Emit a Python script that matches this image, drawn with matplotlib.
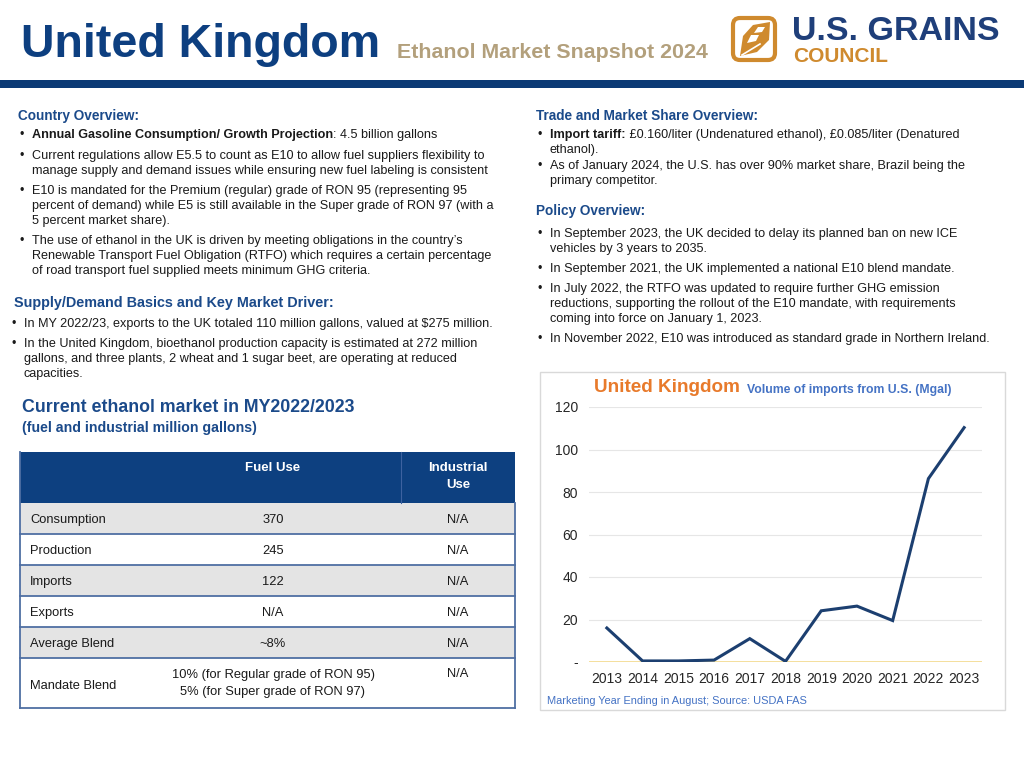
import matplotlib
matplotlib.use("Agg")
import matplotlib.pyplot as plt
from matplotlib.patches import Rectangle, FancyBboxPatch, Polygon

# --- data -------------------------------------------------------------
years = ['2013', '2014', '2015', '2016', '2017', '2018', '2019', '2020', '2021', '2022', '2023']
imports_mgal = [16.0, 0.5, 0.5, 0.9, 11.0, 0.3, 24.1, 26.3, 19.5, 86.3, 110.3]
y_ticks = [0, 20, 40, 60, 80, 100, 120]
y_tick_labels = ['-', '20', '40', '60', '80', '100', '120']

table_rows = ['Consumption', 'Production', 'Imports', 'Exports', 'Average Blend', 'Mandate Blend']
fuel_use = ['370', '245', '122', 'N/A', '~8%',
            '10% (for Regular grade of RON 95)\n5% (for Super grade of RON 97)']
industrial_use = ['N/A', 'N/A', 'N/A', 'N/A', 'N/A', 'N/A']

# --- colours ----------------------------------------------------------
NAVY = '#0d3f80'
HEAD = '#1b4a8a'
TAN = '#b3a07c'
ORANGE = '#cf8a2e'
TXT = '#1a1a1a'
BODY = 9.1

plt.rcParams['font.family'] = ['Liberation Sans', 'DejaVu Sans']

fig = plt.figure(figsize=(10.24, 7.68), dpi=100)
bg = fig.add_axes([0, 0, 1, 1])
bg.set_xlim(0, 1024)
bg.set_ylim(768, 0)
bg.axis('off')
renderer = fig.canvas.get_renderer()


def run(x, y, parts, size=BODY, color=TXT):
    # write a line made of (text, weight) pieces next to each other
    for txt, weight in parts:
        t = bg.text(x, y + 4, txt, fontsize=size, fontweight=weight, color=color, va='baseline')
        x += t.get_window_extent(renderer).width


def bullet(x, y, lines, size=BODY, first=None):
    bg.text(x, y + 4, '\u2022', fontsize=size, color=TXT, va='baseline')
    for i, ln in enumerate(lines):
        yy = y + i * 15.2
        if i == 0 and first is not None:
            run(x + 12, yy, first, size)
        else:
            bg.text(x + 12, yy + 4, ln, fontsize=size, color=TXT, va='baseline')


# --- header -----------------------------------------------------------
bg.text(21, 45, 'United Kingdom', fontsize=33.5, fontweight='bold', color=NAVY, va='center')
bg.text(397, 53, 'Ethanol Market Snapshot 2024', fontsize=15.4, fontweight='bold',
        color=TAN, va='center')

# logo
bg.add_patch(FancyBboxPatch((733, 18), 42, 42, boxstyle='round,pad=0,rounding_size=7',
                            fc='white', ec=ORANGE, lw=3))
bg.add_patch(Polygon([[740, 56], [743, 36], [753, 25], [770, 22], [769, 40], [757, 52]],
                     closed=True, fc=ORANGE, ec='none'))
bg.add_patch(Polygon([[747, 43], [751, 35], [759, 35], [756, 41]], closed=True, fc='white', ec='none'))
bg.add_patch(Polygon([[754, 33], [758, 27], [765, 27], [762, 32]], closed=True, fc='white', ec='none'))
bg.plot([742, 760], [55, 44], color='white', lw=1.2)
bg.text(792, 32, 'U.S. GRAINS', fontsize=24.5, fontweight='bold', color='#1f3f7a', va='center')
bg.text(793, 57, 'COUNCIL', fontsize=15, fontweight='bold', color=ORANGE, va='center')

bg.add_patch(Rectangle((0, 80), 1024, 8, fc='#0b3a75', ec='none'))

# --- left column ------------------------------------------------------
bg.text(18, 116, 'Country Overview:', fontsize=9.8, fontweight='bold', color=HEAD, va='center')
bullet(20, 134, ['x'], first=[('Annual Gasoline Consumption/ Growth Projection', 'bold'),
                              (': 4.5 billion gallons', 'normal')])
bullet(20, 155, ['Current regulations allow E5.5 to count as E10 to allow fuel suppliers flexibility to',
                 'manage supply and demand issues while ensuring new fuel labeling is consistent'])
bullet(20, 190, ['E10 is mandated for the Premium (regular) grade of RON 95 (representing 95',
                 'percent of demand) while E5 is still available in the Super grade of RON 97 (with a',
                 '5 percent market share).'])
bullet(20, 240, ['The use of ethanol in the UK is driven by meeting obligations in the country\u2019s',
                 'Renewable Transport Fuel Obligation (RTFO) which requires a certain percentage',
                 'of road transport fuel supplied meets minimum GHG criteria.'])

bg.text(14, 303, 'Supply/Demand Basics and Key Market Driver:', fontsize=10.4, fontweight='bold',
        color=HEAD, va='center')
bullet(12, 323, ['In MY 2022/23, exports to the UK totaled 110 million gallons, valued at $275 million.'])
bullet(12, 343, ['In the United Kingdom, bioethanol production capacity is estimated at 272 million',
                 'gallons, and three plants, 2 wheat and 1 sugar beet, are operating at reduced',
                 'capacities.'])

bg.text(22, 407, 'Current ethanol market in MY2022/2023', fontsize=12.8, fontweight='bold',
        color=HEAD, va='center')
bg.text(22, 428, '(fuel and industrial million gallons)', fontsize=10.2, fontweight='bold',
        color=HEAD, va='center')

# --- table ------------------------------------------------------------
tx0, tx1, tdiv = 20, 515, 401
bg.add_patch(Rectangle((tx0, 452), tx1 - tx0, 51, fc='#0d4080', ec='none'))
bg.plot([tdiv, tdiv], [452, 503], color='#3d62a0', lw=0.8)
bg.text(273, 471, 'Fuel Use', fontsize=9.5, fontweight='bold', color='white', ha='center', va='baseline')
bg.text(458, 471, 'Industrial', fontsize=9.5, fontweight='bold', color='white', ha='center', va='baseline')
bg.text(458, 488, 'Use', fontsize=9.5, fontweight='bold', color='white', ha='center', va='baseline')
row_top = [503, 534, 565, 596, 627, 658]
row_bot = [534, 565, 596, 627, 658, 708]
for i, name in enumerate(table_rows):
    top, bot = row_top[i], row_bot[i]
    fc = '#e4e4e4' if i % 2 == 0 else 'white'
    bg.add_patch(Rectangle((tx0, top), tx1 - tx0, bot - top, fc=fc, ec='none'))
    bg.plot([tx0, tx1], [bot, bot], color='#4f6fa3', lw=1.3)
    base = (top + bot) / 2 + 4.5 if i < 5 else 689
    bg.text(30, base, name, fontsize=9.3, color=TXT, va='baseline')
    if i < 5:
        bg.text(273, base, fuel_use[i], fontsize=9.3, color=TXT, ha='center', va='baseline')
        bg.text(458, base, industrial_use[i], fontsize=9.3, color=TXT, ha='center', va='baseline')
    else:
        l1, l2 = fuel_use[i].split('\n')
        bg.text(273, 678, l1, fontsize=9.3, color=TXT, ha='center', va='baseline')
        bg.text(273, 695, l2, fontsize=9.3, color=TXT, ha='center', va='baseline')
        bg.text(458, 677, industrial_use[i], fontsize=9.3, color=TXT, ha='center', va='baseline')
bg.plot([tx0, tx0], [452, 708], color='#4f6fa3', lw=1.3)
bg.plot([tx1, tx1], [503, 708], color='#4f6fa3', lw=1.3)

# --- right column -----------------------------------------------------
bg.text(536, 116, 'Trade and Market Share Overview:', fontsize=9.8, fontweight='bold',
        color=HEAD, va='center')
bullet(538, 134, ['x', 'ethanol).'], first=[('Import tariff:', 'bold'),
                                           (' \u00a30.160/liter (Undenatured ethanol), \u00a30.085/liter (Denatured', 'normal')])
bullet(538, 165, ['As of January 2024, the U.S. has over 90% market share, Brazil being the',
                  'primary competitor.'])
bg.text(536, 211, 'Policy Overview:', fontsize=9.8, fontweight='bold', color=HEAD, va='center')
bullet(538, 233, ['In September 2023, the UK decided to delay its planned ban on new ICE',
                  'vehicles by 3 years to 2035.'])
bullet(538, 268, ['In September 2021, the UK implemented a national E10 blend mandate.'])
bullet(538, 288, ['In July 2022, the RTFO was updated to require further GHG emission',
                  'reductions, supporting the rollout of the E10 mandate, with requirements',
                  'coming into force on January 1, 2023.'])
bullet(538, 338, ['In November 2022, E10 was introduced as standard grade in Northern Ireland.'])

# --- chart ------------------------------------------------------------
bg.add_patch(Rectangle((540, 372), 465, 338, fc='white', ec='#d9d9d9', lw=1))
bg.text(594, 388, 'United Kingdom', fontsize=13.6, fontweight='bold', color='#e87a2b', va='center')
bg.text(747, 390, 'Volume of imports from U.S. (Mgal)', fontsize=8.8, fontweight='bold',
        color='#4472c4', va='center')
bg.text(547, 701, 'Marketing Year Ending in August; Source: USDA FAS', fontsize=7.95,
        color='#4472c4', va='center')

ax = fig.add_axes([589 / 1024, 1 - 662 / 768, (982 - 589) / 1024, (662 - 407) / 768])
ax.set_facecolor('none')
x = list(range(len(years)))
ax.plot(x, imports_mgal, color='#1c3f70', lw=2.2, solid_joinstyle='miter', zorder=3)
ax.axhline(0, color='#f3d98b', lw=1.2, zorder=2)
ax.set_xlim(-0.5, len(years) - 0.5)
ax.set_ylim(0, 120)
ax.set_yticks(y_ticks)
ax.set_yticklabels(y_tick_labels)
ax.set_xticks(x)
ax.set_xticklabels(years)
ax.grid(axis='y', color='#e6e6e6', lw=0.8)
ax.set_axisbelow(True)
for s in ax.spines.values():
    s.set_visible(False)
ax.tick_params(length=0, labelsize=10, colors='#262626')
ax.tick_params(axis='y', pad=8)
ax.tick_params(axis='x', pad=7)

fig.savefig('out.png', dpi=100)
